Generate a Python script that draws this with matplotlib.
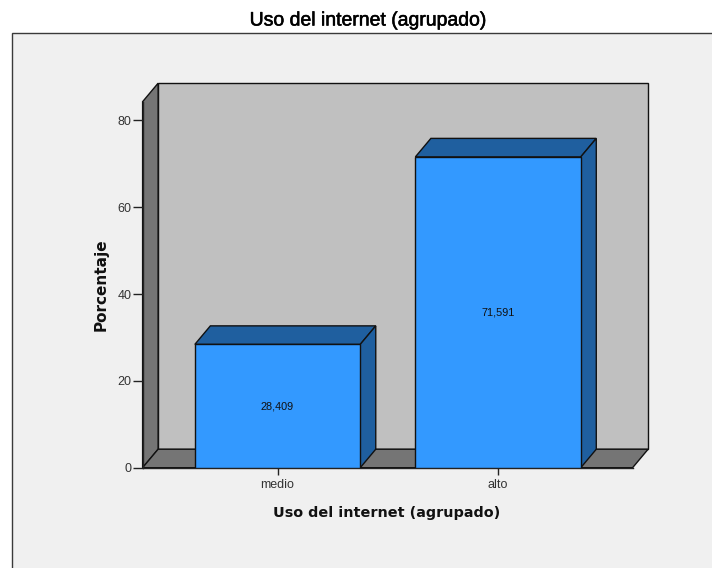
import matplotlib
matplotlib.use('Agg')
import matplotlib.pyplot as plt
import matplotlib.patheffects as pe
from matplotlib.patches import Rectangle

categories = ['medio', 'alto']
values = [28.409, 71.591]
value_labels = ['28,409', '71,591']
yticks = [0, 20, 40, 60, 80]

W, H = 712, 568
DX, DY = 0.0703, 4.26   # 3d depth in data units
BAR_W = 0.75

plt.rcParams['font.family'] = ['Liberation Sans', 'DejaVu Sans']

fig = plt.figure(figsize=(W / 100, H / 100), dpi=100, facecolor='white')

# grey panel, runs off the right and bottom edge
fig.patches.append(Rectangle((12 / W, -0.1), 1.0, 1.1 - 33.5 / H, transform=fig.transFigure,
                             facecolor='#f0f0f0', edgecolor='#3a3a3a', linewidth=1.0, zorder=-1))

ax = fig.add_axes([142.6 / W, 1 - 467.7 / H, 490 / W, 366 / H])
ax.set_xlim(-0.612, 1.61)
ax.set_ylim(0, 84.3)
ax.patch.set_alpha(0)
for s in ['top', 'right']:
    ax.spines[s].set_visible(False)
for s in ['left', 'bottom']:
    ax.spines[s].set_linewidth(1.0)
    ax.spines[s].set_color('#222222')
    ax.spines[s].set_zorder(1)

x0, x1 = ax.get_xlim()
y1 = ax.get_ylim()[1]
edge = '#111111'

# back wall, side wall, floor
ax.fill([x0 + DX, x1 + DX, x1 + DX, x0 + DX], [DY, DY, y1 + DY, y1 + DY],
        facecolor='#c0c0c0', edgecolor=edge, lw=1.0, clip_on=False, zorder=0)
ax.fill([x0, x0 + DX, x0 + DX, x0], [0, DY, y1 + DY, y1],
        facecolor='#757575', edgecolor=edge, lw=1.0, clip_on=False, zorder=0)
ax.fill([x0, x1, x1 + DX, x0 + DX], [0, 0, DY, DY],
        facecolor='#757575', edgecolor=edge, lw=1.0, clip_on=False, zorder=0)

# bars with top and side faces
for i, v in enumerate(values):
    l, r = i - BAR_W / 2, i + BAR_W / 2
    ax.fill([l, r, r + DX, l + DX], [v, v, v + DY, v + DY],
            facecolor='#1f5f9f', edgecolor=edge, lw=1.0, clip_on=False, zorder=2)
    ax.fill([r, r + DX, r + DX, r], [0, DY, v + DY, v],
            facecolor='#1f5f9f', edgecolor=edge, lw=1.0, clip_on=False, zorder=2)
    ax.bar(i, v, width=BAR_W, color='#3399ff', edgecolor=edge, linewidth=1.0, zorder=3)
    ax.text(i, v / 2, value_labels[i], ha='center', va='center', fontsize=7.8,
            color='#111111', zorder=4)

ax.set_xticks(range(len(categories)))
ax.set_xticklabels(categories)
ax.set_yticks(yticks)
ax.tick_params(axis='y', length=7, width=1.0, color='#222222', pad=1,
               labelsize=9, labelcolor='#333333')
ax.tick_params(axis='x', length=5, width=1.0, color='#222222', pad=3,
               labelsize=9, labelcolor='#333333')

# title looks slightly heavier than regular in the reference
fig.text(369 / W, 1 - 21 / H, 'Uso del internet (agrupado)', ha='center', va='center',
         fontsize=14, color='#000000',
         path_effects=[pe.withStroke(linewidth=0.4, foreground='#000000')])
fig.text(387 / W, 1 - 512.5 / H, 'Uso del internet (agrupado)', ha='center', va='center',
         fontsize=10.35, fontweight='bold', family='DejaVu Sans', color='#111111')
fig.text(101 / W, 1 - 285 / H, 'Porcentaje', ha='center', va='center', rotation=90,
         fontsize=11, fontweight='bold', family='DejaVu Sans', color='#111111')

fig.savefig('out.png', dpi=100)
